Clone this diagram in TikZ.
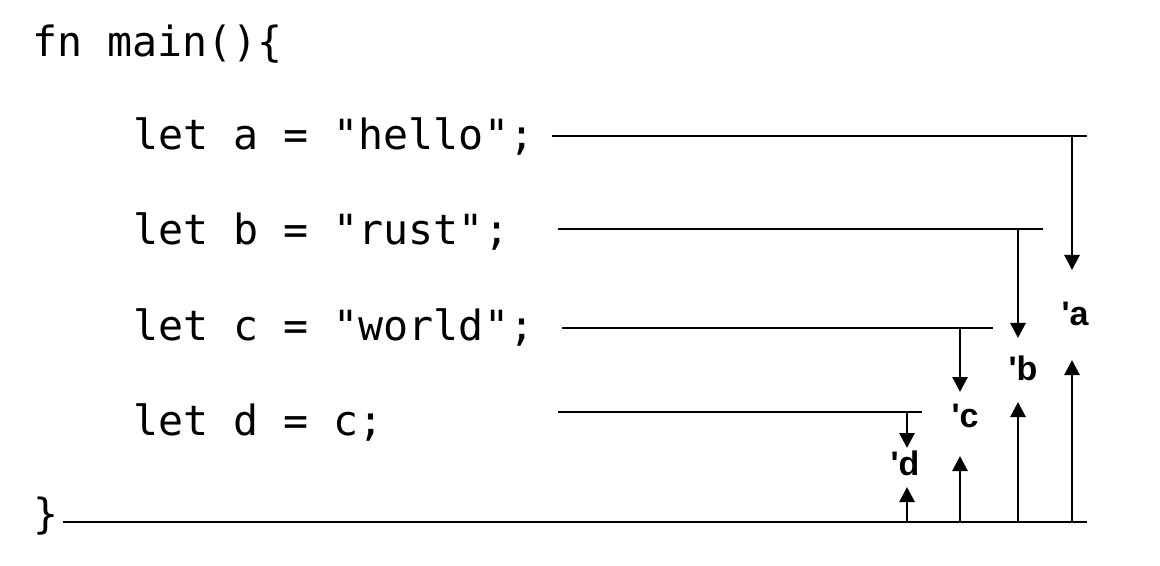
\documentclass[tikz,border=0pt]{standalone}
\usepackage{fontspec}
\setmonofont{DejaVu Sans Mono}
\newfontfamily\lblfont{Liberation Sans}[Ligatures=TeXOff]
\usetikzlibrary{arrows.meta}
\begin{document}
\begin{tikzpicture}[x=0.5pt,y=-0.5pt,
  code/.style={anchor=base west, inner sep=0pt, font=\fontsize{20.8}{24}\selectfont\ttfamily},
  lt/.style={anchor=base, inner sep=0pt, font=\fontsize{17}{20}\selectfont\lblfont\bfseries},
  wire/.style={line width=1.4pt},
  arr/.style={line width=1.4pt, -{Triangle[length=7.5pt,width=7.5pt]}}]
\useasboundingbox (0,0) rectangle (1160,566);
% code
\node[code] (fn) at (32,57) {fn main()\{};
\node[code] (la) at (133,150) {let a = "hello";};
\node[code] (lb) at (133,245) {let b = "rust";};
\node[code] (lc) at (133,340) {let c = "world";};
\node[code] (ld) at (133,435) {let d = c;};
\node[code] (cl) at (33,528) {\}};
% lifetime labels
\node[lt] (na) at (1075,326) {'a};
\node[lt] (nb) at (1023,380) {'b};
\node[lt] (nc) at (965,427) {'c};
\node[lt] (nd) at (905,475) {'d};
% horizontal lines
\coordinate (a1) at (552,136); \coordinate (a2) at (1087,136);
\coordinate (b1) at (558,229); \coordinate (b2) at (1043,229);
\coordinate (c1) at (562,328); \coordinate (c2) at (993,328);
\coordinate (d1) at (558,412); \coordinate (d2) at (922,412);
\coordinate (e1) at (63,522);  \coordinate (e2) at (1087,522);
\draw[wire] (a1) -- (a2);
\draw[wire] (b1) -- (b2);
\draw[wire] (c1) -- (c2);
\draw[wire] (d1) -- (d2);
\draw[wire] (e1) -- (e2);
% vertical arrows
\coordinate (atop) at (1072,136); \coordinate (adn) at (1072,270);
\coordinate (abot) at (1072,522); \coordinate (aup) at (1072,360);
\coordinate (btop) at (1018,229); \coordinate (bdn) at (1018,338);
\coordinate (bbot) at (1018,522); \coordinate (bup) at (1018,402);
\coordinate (ctop) at (960,328);  \coordinate (cdn) at (960,392);
\coordinate (cbot) at (960,522);  \coordinate (cup) at (960,456);
\coordinate (dtop) at (907,412);  \coordinate (ddn) at (907,448);
\coordinate (dbot) at (907,522);  \coordinate (dup) at (907,487);
\draw[arr] (atop) -- (adn);
\draw[arr] (abot) -- (aup);
\draw[arr] (btop) -- (bdn);
\draw[arr] (bbot) -- (bup);
\draw[arr] (ctop) -- (cdn);
\draw[arr] (cbot) -- (cup);
\draw[arr] (dtop) -- (ddn);
\draw[arr] (dbot) -- (dup);
\end{tikzpicture}
\end{document}
